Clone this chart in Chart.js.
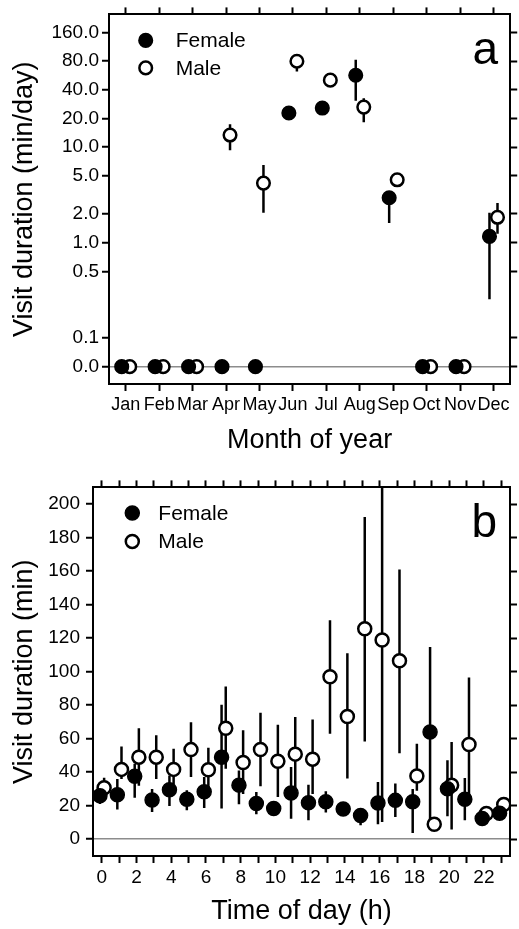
<!DOCTYPE html>
<html lang="en">
<head>
  <meta charset="UTF-8">
  <title>Visit duration by month and time of day</title>
  <script src="https://cdn.jsdelivr.net/npm/chart.js"></script>
  <style>
    body {
      margin: 0;
      background: #ffffff;
    }
    .wrap {
      position: relative;
      width: 519px;
      height: 929px;
    }
    .wrap canvas {
      position: absolute;
      left: 0;
    }
  </style>
</head>
<body>

<div class="wrap">
  <canvas id="monthChart" width="519" height="470" style="top:0"></canvas>
  <canvas id="hourChart" width="519" height="459" style="top:470px"></canvas>
</div>

<script>
  // panel a - visits per month (log axis, zeros sit on the "0.0" line)
  const months = ['Jan', 'Feb', 'Mar', 'Apr', 'May', 'Jun', 'Jul', 'Aug', 'Sep', 'Oct', 'Nov', 'Dec'];
  const femaleMonth     = [0, 0, 0, 0, 0, 22.8, 25.7, 56.8, 2.95, 0, 0, 1.16];
  const femaleMonthLow  = [null, null, null, null, null, null, null, 30.6, 1.6, null, null, 0.255];
  const femaleMonthHigh = [null, null, null, null, null, null, null, 82.6, 3.3, null, null, 2.05];
  const maleMonth       = [0, 0, 0, 13.4, 4.2, 79.6, 50.4, 26.3, 4.55, 0, 0, 1.84];
  const maleMonthLow    = [null, null, null, 9.3, 2.05, 62, null, 18.2, null, null, null, 1.24];
  const maleMonthHigh   = [null, null, null, 17.4, 6.5, 90, null, 32.5, null, null, null, 2.6];
  const monthTickValues = [0.05, 0.1, 0.5, 1, 2, 5, 10, 20, 40, 80, 160];
  const monthTickLabels = ['0.0', '0.1', '0.5', '1.0', '2.0', '5.0', '10.0', '20.0', '40.0', '80.0', '160.0'];
  const zeroOnLog = 0.05;

  // panel b - visit duration per hour
  const hours = [0, 1, 2, 3, 4, 5, 6, 7, 8, 9, 10, 11, 12, 13, 14, 15, 16, 17, 18, 19, 20, 21, 22, 23];
  const femaleHour     = [26, 26.5, 37.6, 23.4, 29.6, 23.9, 28.4, 49, 32.3, 21.3, 18.3, 27.6, 21.8, 22.4, 18, 14.2, 21.6, 23.2, 22.4, 64, 30.1, 23.9, 12.4, 15.5];
  const femaleHourLow  = [21, 17.7, 24.8, 16.3, 19.9, 17.3, 18.7, 18.3, 20.9, 14.9, 15, 12.3, 11.3, 15.9, 15, 8.3, 8.9, 13.3, 3.8, 10, 13.7, 11.3, 10, 13];
  const femaleHourHigh = [31, 36, 45, 30, 38, 29.2, 37.1, 80.3, 41, 28.2, 21, 43.1, 32.6, 28.6, 21, 18.3, 34.2, 33.2, 30, 114.8, 47.1, 36.6, 15, 18];
  const maleHour       = [30.7, 41.7, 49, 49, 41.7, 53.5, 41.5, 66.3, 45.8, 53.6, 46.5, 50.8, 47.8, 97, 73.3, 125.6, 118.9, 106.5, 37.8, 8.9, 32.2, 56.5, 15.4, 20.7];
  const maleHourLow    = [27, 36, 32, 36, 33, 37.1, 28, 42.1, 27, 31.6, 25.2, 30, 27, 63, 36.2, 58.4, 10.3, 51.4, 29, 6, 5.8, 23, 12, 18];
  const maleHourHigh   = [36.7, 55.4, 66.3, 62, 54, 69.9, 54.6, 91.2, 65, 75.5, 68.3, 72.9, 71.5, 130.7, 111, 192.3, 260, 161, 57, 12.3, 58, 96.5, 18, 23];
  const hourTickValues = [0, 20, 40, 60, 80, 100, 120, 140, 160, 180, 200];

  Chart.defaults.font.family = "'Liberation Sans', Arial, sans-serif";
  Chart.defaults.color = '#000';

  // vertical error lines, drawn under the markers
  const errorBars = {
    id: 'errorBars',
    beforeDatasetsDraw(chart) {
      const { ctx, chartArea, scales } = chart;
      ctx.save();
      ctx.beginPath();
      ctx.rect(chartArea.left, chartArea.top, chartArea.right - chartArea.left, chartArea.bottom - chartArea.top);
      ctx.clip();
      ctx.strokeStyle = '#000';
      ctx.lineWidth = 2.5;
      chart.data.datasets.forEach(ds => {
        ds.data.forEach((p, i) => {
          const lo = ds.errLow[i], hi = ds.errHigh[i];
          if (lo == null || hi == null) return;
          const x = scales.x.getPixelForValue(p.x);
          ctx.beginPath();
          ctx.moveTo(x, scales.y.getPixelForValue(lo));
          ctx.lineTo(x, scales.y.getPixelForValue(hi));
          ctx.stroke();
        });
      });
      ctx.restore();
    }
  };

  // legend inside the plot + panel letter
  const insideLabels = {
    id: 'insideLabels',
    afterDraw(chart, args, opts) {
      const { ctx, chartArea } = chart;
      ctx.save();
      chart.data.datasets.forEach((ds, i) => {
        const cx = chartArea.left + opts.dx;
        const cy = chartArea.top + opts.dy + i * opts.step;
        ctx.beginPath();
        ctx.arc(cx, cy, ds.pointRadius, 0, Math.PI * 2);
        ctx.fillStyle = ds.pointBackgroundColor;
        ctx.fill();
        ctx.lineWidth = ds.pointBorderWidth;
        ctx.strokeStyle = '#000';
        ctx.stroke();
        ctx.fillStyle = '#000';
        ctx.font = "21px 'Liberation Sans', Arial, sans-serif";
        ctx.textAlign = 'left';
        ctx.textBaseline = 'middle';
        ctx.fillText(ds.label, cx + opts.textGap, cy + 1);
      });
      ctx.font = "46px 'Liberation Sans', Arial, sans-serif";
      ctx.textAlign = 'right';
      ctx.textBaseline = 'alphabetic';
      ctx.fillText(opts.letter, chartArea.right - opts.letterRight, chartArea.top + opts.letterTop);
      ctx.restore();
    }
  };

  function fixTicks(values) {
    return scale => { scale.ticks = values.map(v => ({ value: v })); };
  }

  function edgeAxis(type, position, min, max, values, size) {
    return {
      type: type,
      position: position,
      min: min,
      max: max,
      afterBuildTicks: fixTicks(values),
      afterFit: s => {
        if (s.isHorizontal()) s.height = size; else s.width = size;
      },
      ticks: { display: false },
      grid: { drawOnChartArea: false, drawTicks: true, tickLength: 7, tickColor: '#000', tickWidth: 2 },
      border: { display: true, color: '#000', width: 2 }
    };
  }

  function makeSets(fVals, fLo, fHi, mVals, mLo, mHi, xs, fShift, mShift, mapY, r) {
    return [
      {
        label: 'Female',
        data: fVals.map((v, i) => ({ x: xs[i] + fShift, y: mapY(v) })),
        errLow: fLo, errHigh: fHi,
        pointRadius: r,
        pointBorderWidth: 1.5,
        pointBackgroundColor: '#000',
        pointBorderColor: '#000',
        showLine: false
      },
      {
        label: 'Male',
        data: mVals.map((v, i) => ({ x: xs[i] + mShift, y: mapY(v) })),
        errLow: mLo, errHigh: mHi,
        pointRadius: r - 0.5,
        pointBorderWidth: 2.5,
        pointBackgroundColor: '#fff',
        pointBorderColor: '#000',
        showLine: false
      }
    ];
  }

  const monthIdx = months.map((m, i) => i);
  const titleFont = { size: 27 };
  const tickFont = { size: 19 };
  const monthFont = { size: 18 };

  // ---------- panel a ----------
  new Chart(document.getElementById('monthChart'), {
    type: 'scatter',
    data: {
      datasets: makeSets(femaleMonth, femaleMonthLow, femaleMonthHigh, maleMonth, maleMonthLow, maleMonthHigh,
        monthIdx, -0.12, 0.12, v => (v === 0 ? zeroOnLog : v), 6.8)
    },
    options: {
      responsive: false,
      animation: false,
      layout: { padding: 0 },
      plugins: {
        legend: { display: false },
        tooltip: { enabled: false },
        insideLabels: { dx: 36.7, dy: 26, step: 27.5, textGap: 30, letter: 'a', letterRight: 12, letterTop: 50 }
      },
      scales: {
        x: {
          type: 'linear',
          min: -0.5,
          max: 11.5,
          afterBuildTicks: fixTicks(monthIdx),
          afterFit: s => { s.height = 86; },
          ticks: { font: monthFont, padding: 3, autoSkip: false, maxRotation: 0, callback: (v, i) => months[i] },
          grid: { drawOnChartArea: false, tickLength: 7, tickColor: '#000', tickWidth: 2 },
          border: { display: true, color: '#000', width: 2 },
          title: { display: true, text: 'Month of year', font: titleFont, padding: { top: 0, bottom: 12.8 } }
        },
        x2: edgeAxis('linear', 'top', -0.5, 11.5, monthIdx, 13),
        y: {
          type: 'logarithmic',
          min: 0.0329,
          max: 246.6,
          afterBuildTicks: fixTicks(monthTickValues),
          afterFit: s => { s.width = 109; },
          ticks: { font: tickFont, padding: 3, autoSkip: false, callback: (v, i) => monthTickLabels[i] },
          grid: {
            drawOnChartArea: true,
            color: c => (c.tick && c.tick.value === zeroOnLog ? '#8c8c8c' : 'rgba(0,0,0,0)'),
            lineWidth: 1.5,
            tickLength: 7, tickColor: '#000', tickWidth: 2
          },
          border: { display: true, color: '#000', width: 2 },
          title: { display: true, text: 'Visit duration (min/day)', font: titleFont, padding: { top: 8.8, bottom: 0 } }
        },
        y2: edgeAxis('logarithmic', 'right', 0.0329, 246.6, monthTickValues, 2)
      }
    },
    plugins: [errorBars, insideLabels]
  });

  // ---------- panel b ----------
  new Chart(document.getElementById('hourChart'), {
    type: 'scatter',
    data: {
      datasets: makeSets(femaleHour, femaleHourLow, femaleHourHigh, maleHour, maleHourLow, maleHourHigh,
        hours, -0.1, 0.14, v => v, 7)
    },
    options: {
      responsive: false,
      animation: false,
      layout: { padding: 0 },
      plugins: {
        legend: { display: false },
        tooltip: { enabled: false },
        insideLabels: { dx: 39.3, dy: 25.7, step: 28.3, textGap: 26, letter: 'b', letterRight: 13, letterTop: 50 }
      },
      scales: {
        x: {
          type: 'linear',
          min: -0.5,
          max: 23.5,
          afterBuildTicks: fixTicks(hours),
          afterFit: s => { s.height = 73; },
          ticks: { font: tickFont, padding: 3, autoSkip: false, maxRotation: 0, callback: v => (v % 2 === 0 ? String(v) : '') },
          grid: { drawOnChartArea: false, tickLength: 7, tickColor: '#000', tickWidth: 2 },
          border: { display: true, color: '#000', width: 2 },
          title: { display: true, text: 'Time of day (h)', font: titleFont, padding: { top: 0, bottom: 1.3 } }
        },
        x2: edgeAxis('linear', 'top', -0.5, 23.5, hours, 17),
        y: {
          type: 'linear',
          min: -10,
          max: 210,
          afterBuildTicks: fixTicks(hourTickValues),
          afterFit: s => { s.width = 93; },
          ticks: { font: tickFont, padding: 6, autoSkip: false, callback: v => String(v) },
          grid: {
            drawOnChartArea: true,
            color: c => (c.tick && c.tick.value === 0 ? '#8c8c8c' : 'rgba(0,0,0,0)'),
            lineWidth: 1.5,
            tickLength: 7, tickColor: '#000', tickWidth: 2
          },
          border: { display: true, color: '#000', width: 2 },
          title: { display: true, text: 'Visit duration (min)', font: titleFont, padding: { top: 8.8, bottom: 0 } }
        },
        y2: edgeAxis('linear', 'right', -10, 210, hourTickValues, 2)
      }
    },
    plugins: [errorBars, insideLabels]
  });
</script>

</body>
</html>
